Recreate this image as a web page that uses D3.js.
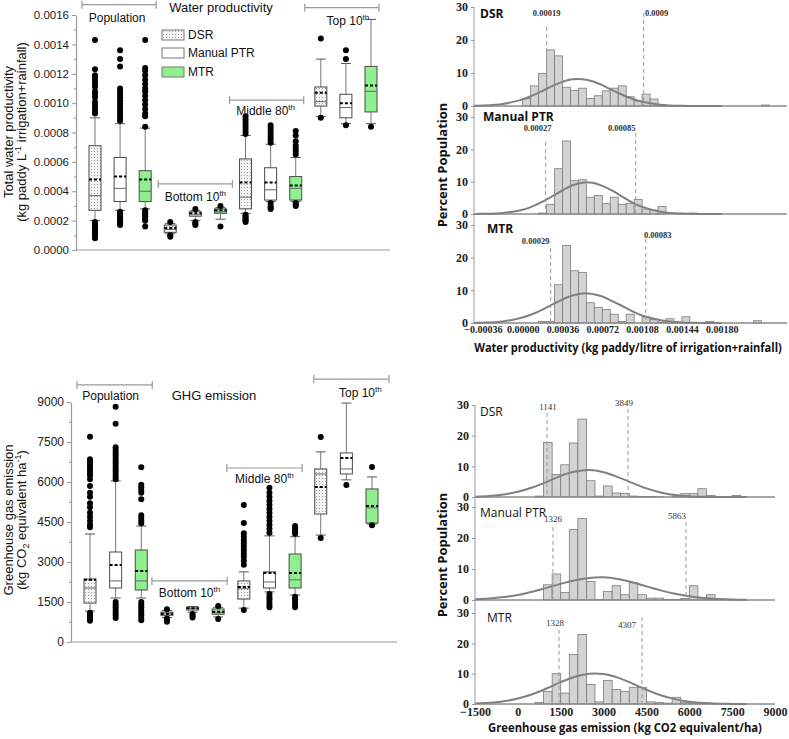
<!DOCTYPE html>
<html><head><meta charset="utf-8">
<script src="https://cdn.jsdelivr.net/npm/d3@7/dist/d3.min.js"></script>
<style>
body{margin:0;background:#fff;}
svg{display:block;font-family:"Liberation Sans",Arial,sans-serif;}
</style></head><body>
<svg id="chart" width="789" height="739"></svg>
<script>
// ---------------- DATA ----------------
const treatments = ["DSR", "Manual PTR", "MTR"];
const groupNames = ["Population", "Bottom 10", "Middle 80", "Top 10"];
const groupSup = ["", "th", "th", "th"];

// Water productivity boxes (order: group x treatment)
const wpWhiskerLow  = [0.00020,0.00027,0.00028, 0.00011,0.00020,0.00021, 0.00025,0.00033,0.00033, 0.00091,0.00086,0.00086];
const wpQ1          = [0.00027,0.00033,0.00033, 0.00012,0.00023,0.00025, 0.00028,0.00034,0.00034, 0.00098,0.00090,0.00094];
const wpMedian      = [0.00037,0.00042,0.00040, 0.00014,0.00024,0.00026, 0.00036,0.00041,0.00042, 0.00101,0.00097,0.00108];
const wpMean        = [0.00048,0.00050,0.00048, 0.00015,0.00025,0.00027, 0.00046,0.00046,0.00044, 0.00107,0.00100,0.00112];
const wpQ3          = [0.00071,0.00063,0.00054, 0.00017,0.00026,0.00028, 0.00062,0.00056,0.00050, 0.00111,0.00106,0.00125];
const wpWhiskerHigh = [0.00090,0.00086,0.00083, 0.00018,0.00027,0.00029, 0.00078,0.00072,0.00063, 0.00130,0.00127,0.00157];
const wpOutliers = [
 [0.00143,0.00123,0.00119,0.00117,0.00115,0.00113,0.00111,0.00108,0.00106,0.00104,0.00101,0.00099,0.00097,0.00095,0.00093,0.00019,0.00018,0.00017,0.00016,0.00015,0.00014,0.00013,0.00012,0.00011,0.00010,0.00009,0.00008],
 [0.00136,0.00130,0.00125,0.00110,0.00108,0.00106,0.00104,0.00102,0.00100,0.00098,0.00096,0.00094,0.00092,0.00090,0.00088,0.00026,0.00025,0.00024,0.00023,0.00022,0.00021,0.00020,0.00019,0.00018,0.00017],
 [0.00143,0.00124,0.00122,0.00119,0.00116,0.00113,0.00110,0.00108,0.00105,0.00102,0.00099,0.00096,0.00093,0.00091,0.00084,0.00027,0.00026,0.00025,0.00024,0.00023,0.00022,0.00021,0.00020,0.00016],
 [0.00019,0.00010,0.00009],
 [0.00028,0.00019,0.00018,0.00017],
 [0.00030,0.00016],
 [0.00091,0.00089,0.00087,0.00085,0.00083,0.00081,0.00079,0.00024,0.00023,0.00022,0.00021,0.00020,0.00019],
 [0.00085,0.00083,0.00081,0.00079,0.00077,0.00075,0.00073,0.00032,0.00030,0.00029,0.00028],
 [0.00081,0.00078,0.00074,0.00071,0.00069,0.00067,0.00065,0.00032,0.00031,0.00030],
 [0.00144,0.00090],
 [0.00136,0.00130,0.00085],
 [0.00084]
];
const wpTicks = [0,0.0002,0.0004,0.0006,0.0008,0.0010,0.0012,0.0014,0.0016];
const wpMinorTicks = [0.0001,0.0003,0.0005,0.0007,0.0009,0.0011,0.0013,0.0015];
const wpBracketY = [0.00167,0.00045,0.00102,0.00165];

// GHG emission boxes
const ghgWhiskerLow  = [1160,1650,1650, 920,1120,940, 1270,1880,1760, 4010,6080,4420];
const ghgQ1          = [1460,2025,1950, 1000,1200,1040, 1610,2025,2025, 4800,6300,4460];
const ghgMedian      = [2025,2290,2290, 1050,1250,1100, 2000,2250,2330, 6300,6490,5030];
const ghgMean        = [2330,2890,2660, 1060,1270,1130, 2060,2590,2590, 5810,6900,5100];
const ghgQ3          = [2360,3375,3450, 1120,1310,1240, 2290,2630,3300, 6490,7090,5740];
const ghgWhiskerHigh = [4050,6040,4350, 1180,1330,1300, 2630,3980,3950, 7130,8960,6190];
const ghgOutliers = [
 [7700,6850,6750,6650,6550,6450,6350,6250,6100,5850,5600,5450,5200,5050,4850,4700,4550,4400,4300,1100,1050,1000,950,900,850,800],
 [8820,8180,7300,7200,7100,7000,6900,6800,6700,6600,6500,6400,6300,6200,6100,1500,1400,1300,1200,1100,1000,900],
 [6550,5900,5800,5700,5600,5350,4750,4650,4550,4450,1500,1400,1300,1200,1100,1000,900,820],
 [1230,880,820,760],
 [1050,980,920],
 [1350,860],
 [5140,4460,4080,3950,3820,3700,3580,3450,3320,3200,3050,2900,1200],
 [5780,5600,5450,5300,5150,5000,4850,4700,4550,4400,4250,4100,1800,1700,1600,1500,1400,1300],
 [4350,4280,4200,4130,4060,1700,1600,1500,1400,1300],
 [7690,3900],
 [5890],
 [6560,4380]
];
const ghgTicks = [0,1500,3000,4500,6000,7500,9000];
const ghgMinorTicks = [750,2250,3750,5250,6750,8250];
const ghgBracketY = [9640,2290,6525,9860];

// Histograms: water productivity (% of population per bin)
const wpBinStart = 0, wpBinWidth = 0.000072;
const wpHistDSR    = [2.3,6.1,9.9,17.0,15.2,5.7,4.7,5.4,2.3,3.1,4.6,5.4,6.1,2.8,1.5,3.6,2.1,0.5,0.2,0.2,0.1,0.1,0,0,0,0,0,0,0,0,0.3];
const wpHistManual = [0,0,0.3,3.0,14.0,22.6,10.3,10.6,5.2,5.7,3.2,5.2,3.0,3.3,4.5,1.5,1.2,2.3,0,0,0,0.3];
const wpHistMTR    = [0,0,0.5,0.5,11.7,23.7,16.0,15.5,6.2,4.8,4.1,2.7,0.5,2.7,0,1.8,1.0,0.3,1.3,0.3,1.9,0,0,0.5,0,0,0,0,0,0.7];
const wpCurveX      = [-0.00044,-0.00036,-0.00018,0,0.00009,0.00018,0.00027,0.00036,0.00045,0.00054,0.00063,0.00072,0.00081,0.00090,0.00099,0.00108,0.00126,0.00144,0.00162,0.00180];
const wpCurveDSR    = [0.06,0.14,0.63,2.0,3.2,4.6,6.1,7.3,8.1,8.1,7.5,6.3,4.8,3.4,2.2,1.3,0.33,0.06,0.01,0];
const wpCurveManual = [0.02,0.05,0.32,1.3,2.35,3.8,5.5,7.3,8.9,9.7,9.65,8.7,7.2,5.4,3.6,2.2,0.64,0.12,0.02,0];
const wpCurveMTR    = [0.05,0.1,0.48,1.7,2.75,4.1,5.7,7.2,8.4,9.05,8.9,8.1,6.7,5.2,3.6,2.3,0.75,0.17,0.03,0];
const wpCutLabels   = [["0.00019","0.0009"],["0.00027","0.00085"],["0.00029","0.00083"]];
const wpCutPos      = [[0.000217,0.001094],[0.000208,0.001022],[0.000253,0.001113]];
const wpXTicks = [-0.00036,0,0.00036,0.00072,0.00108,0.00144,0.00180];

// Histograms: GHG emission
const ghgBinStart = 600, ghgBinWidth = 300;
const ghgHistDSR    = [0.3,17.8,7.3,10.5,17.6,25.4,5.3,0.3,3.6,1.3,1.2,0.3,0.2,0.2,0.1,0,0.3,1.1,1.1,2.7,0.5,0,0,0.5];
const ghgHistManual = [0,4.9,8.4,2.4,22.7,26.3,6.0,0.2,2.8,4.6,1.7,5.6,1.7,0.6,0.6,0.2,0.2,0.5,4.6,0.7,1.7,0.3];
const ghgHistMTR    = [0.5,4.1,10.0,3.6,16.3,22.9,6.4,0.7,7.8,4.8,4.1,5.5,5.5,0.7,0.5,0.3,2.2,0.6,0.1,0.5];
const ghgCurveX      = [-1500,-1000,-500,0,500,1000,1500,2000,2500,3000,3500,4000,4500,5000,5500,6000,6500,7000,7500,8000];
const ghgCurveDSR    = [0.12,0.34,0.81,1.7,3.1,4.9,6.9,8.3,8.8,8.1,6.5,4.6,2.8,1.5,0.68,0.28,0.1,0.03,0.01,0];
const ghgCurveManual = [0.23,0.48,0.93,1.6,2.65,3.9,5.2,6.4,7.1,7.3,6.75,5.7,4.4,3.1,2.0,1.2,0.63,0.31,0.14,0.06];
const ghgCurveMTR    = [0.15,0.39,0.88,1.8,3.2,5.1,7.2,9.0,10.0,9.9,8.7,6.8,4.7,2.9,1.6,0.76,0.33,0.12,0.04,0.01];
const ghgCutLabels   = [["1141","3849"],["1326","5863"],["1328","4307"]];
const ghgCutPos      = [[1020,3855],[1230,5885],[1440,4345]];
const ghgXTicks = [-1500,0,1500,3000,4500,6000,7500,9000];

// ---------------- DRAW ----------------
const svg = d3.select("#chart");
const defs = svg.append("defs");
const pat = defs.append("pattern").attr("id","stip").attr("width",3).attr("height",3).attr("patternUnits","userSpaceOnUse");
pat.append("rect").attr("width",3).attr("height",3).attr("fill","#f3f3f3");
pat.append("rect").attr("x",1).attr("y",1).attr("width",1).attr("height",1).attr("fill","#a0a0a0");
const boxFills = ["url(#stip)","#ffffff","#90f090"];
const AX = "#9a9a9a";

// text squeezed horizontally to a target width (keeps glyph height)
function fitText(parent, str, cx, cy, width, rotate, attrs){
  const g = parent.append("g");
  const t = g.append("text").attr("text-anchor","middle").text(str);
  Object.entries(attrs).forEach(([k,v])=>t.attr(k,v));
  const natural = t.node().getComputedTextLength();
  const sx = Math.min(1, width/natural);
  g.attr("transform",`translate(${cx},${cy})${rotate?" rotate(-90)":""} scale(${sx},1)`);
  return g;
}

function drawBoxPanel(p){
  const g = svg.append("g");
  const x = d3.scalePoint().domain(d3.range(12)).range(p.xRange);
  const y = d3.scaleLinear().domain(p.yDomain).range(p.yRange);
  g.append("line").attr("x1",p.axisX).attr("x2",p.axisEnd).attr("y1",y(0)).attr("y2",y(0))
    .attr("stroke",AX).attr("stroke-width",1.2);
  const mg = g.append("g").attr("transform",`translate(${p.axisX},0)`)
    .call(d3.axisLeft(y).tickValues(p.minor).tickSize(2).tickFormat(""));
  mg.select(".domain").remove(); mg.selectAll("line").attr("stroke",AX);
  const ay = g.append("g").attr("transform",`translate(${p.axisX},0)`)
    .call(d3.axisLeft(y).tickValues(p.ticks).tickFormat(p.fmt).tickSize(4).tickSizeOuter(0).tickPadding(3));
  ay.select(".domain").attr("stroke",AX).attr("stroke-width",1.2);
  ay.selectAll(".tick line").attr("stroke",AX);
  ay.selectAll("text").attr("font-size",p.tickFont).attr("fill","#222")
    .attr("font-family","Liberation Sans, Arial, sans-serif");

  const bw = 12, cw = 5;
  d3.range(12).forEach(i=>{
    const cx = x(i), t = i%3;
    const b = g.append("g");
    const ln = (x1,y1,x2,y2,c,w)=>b.append("line").attr("x1",x1).attr("y1",y1).attr("x2",x2).attr("y2",y2).attr("stroke",c).attr("stroke-width",w);
    ln(cx,y(p.low[i]),cx,y(p.q1[i]),"#777",1);
    ln(cx,y(p.q3[i]),cx,y(p.high[i]),"#777",1);
    ln(cx-cw,y(p.low[i]),cx+cw,y(p.low[i]),"#555",1);
    ln(cx-cw,y(p.high[i]),cx+cw,y(p.high[i]),"#555",1);
    b.append("rect").attr("x",cx-bw/2).attr("width",bw).attr("y",y(p.q3[i])).attr("height",y(p.q1[i])-y(p.q3[i]))
      .attr("fill",boxFills[t]).attr("stroke","#4a4a4a").attr("stroke-width",1);
    ln(cx-bw/2,y(p.med[i]),cx+bw/2,y(p.med[i]),"#666",1);
    ln(cx-bw/2,y(p.mean[i]),cx+bw/2,y(p.mean[i]),"#000",2).attr("stroke-dasharray","3,2");
    b.selectAll("circle").data(p.out[i]).join("circle").attr("cx",cx).attr("cy",d=>y(d)).attr("r",3).attr("fill","#000");
  });

  groupNames.forEach((gn,j)=>{
    const x1 = x(j*3)-13+p.brShift[j], x2 = x(j*3+2)+11+p.brShift[j], yy = y(p.bracketY[j]);
    g.append("path").attr("d",`M${x1},${yy-4}V${yy+4}M${x1},${yy}H${x2}M${x2},${yy-4}V${yy+4}`)
      .attr("stroke","#999").attr("stroke-width",1.2).attr("fill","none");
    const t = g.append("text").attr("x",(x1+x2)/2+p.labelDx[j]).attr("y",yy+p.labelDy[j])
      .attr("text-anchor","middle").attr("font-size",12).attr("fill","#111");
    t.append("tspan").text(gn);
    if (groupSup[j]) t.append("tspan").attr("dy",-5).attr("font-size",8).text(groupSup[j]);
  });

  g.append("text").attr("x",p.titleX).attr("y",p.titleY).attr("text-anchor","middle")
    .attr("font-size",13).attr("fill","#111").text(p.title);

  const yl = g.append("g").attr("transform",`translate(0,${p.ylabelY}) rotate(-90)`);
  yl.append("text").attr("x",0).attr("y",13).attr("text-anchor","middle").attr("font-size",13).attr("fill","#111").text(p.ylabel1);
  const t2 = yl.append("text").attr("x",0).attr("y",26).attr("text-anchor","middle").attr("font-size",13).attr("fill","#111");
  p.ylabel2.forEach(s=>{
    const ts = t2.append("tspan").text(s.t);
    if (s.sup) ts.attr("dy",-5).attr("font-size",9);
    else if (s.sub) ts.attr("dy",3).attr("font-size",9);
    if (s.back) ts.attr("dy",s.back);
  });
  return g;
}

drawBoxPanel({
  xRange:[95,371], yDomain:[0,0.0016], yRange:[250,15], axisX:76, axisEnd:390,
  ticks:wpTicks, minor:wpMinorTicks, fmt:d3.format(".4f"), tickFont:11.5,
  low:wpWhiskerLow, q1:wpQ1, med:wpMedian, mean:wpMean, q3:wpQ3, high:wpWhiskerHigh, out:wpOutliers,
  bracketY:wpBracketY, brShift:[0,1,-3,-3], labelDx:[-2,0,-1,6], labelDy:[17,17,15,17],
  title:"Water productivity", titleX:221, titleY:12,
  ylabelY:132, ylabel1:"Total water productivity",
  ylabel2:[{t:"(kg paddy L"},{t:"-1",sup:true},{t:" irrigation+rainfall)",back:5}]
});
drawBoxPanel({
  xRange:[90,372], yDomain:[0,9000], yRange:[642,402], axisX:71, axisEnd:397,
  ticks:ghgTicks, minor:ghgMinorTicks, fmt:d3.format("d"), tickFont:12,
  low:ghgWhiskerLow, q1:ghgQ1, med:ghgMedian, mean:ghgMean, q3:ghgQ3, high:ghgWhiskerHigh, out:ghgOutliers,
  bracketY:ghgBracketY, brShift:[0,-2,-4,6], labelDx:[-4,0,0,9], labelDy:[15,16,15,18],
  title:"GHG emission", titleX:214, titleY:400,
  ylabelY:520, ylabel1:"Greenhouse gas emission",
  ylabel2:[{t:"(kg CO"},{t:"2",sub:true},{t:" equivalent ha",back:-3},{t:"-1",sup:true},{t:")",back:5}]
});

// legend
const lg = svg.append("g");
treatments.forEach((tr,i)=>{
  const yy = [30,48,67][i];
  lg.append("rect").attr("x",162).attr("y",yy).attr("width",22).attr("height",10)
    .attr("fill",boxFills[i]).attr("stroke","#777").attr("stroke-width",1);
  lg.append("text").attr("x",188).attr("y",yy+9).attr("font-size",12).attr("fill","#111").text(tr);
});

// ---------- histogram stacks ----------
function drawHistStack(p){
  const g = svg.append("g");
  const x = d3.scaleLinear().domain(p.xDomain).range(p.xRange);
  p.panels.forEach((pn,k)=>{
    const y = d3.scaleLinear().domain([0,30]).range([pn.base,pn.top]);
    const bins = pn.bins.map((v,i)=>({v, x0:p.binStart+i*p.binWidth, x1:p.binStart+(i+1)*p.binWidth})).filter(d=>d.v>0);
    g.append("g").selectAll("rect").data(bins).join("rect")
      .attr("x",d=>x(d.x0)).attr("width",d=>x(d.x1)-x(d.x0))
      .attr("y",d=>y(d.v)).attr("height",d=>y(0)-y(d.v))
      .attr("fill","#d3d3d3").attr("stroke","#7c7c7c").attr("stroke-width",0.8);
    g.append("line").attr("x1",p.xRange[0]).attr("x2",p.xRange[1]).attr("y1",y(0)).attr("y2",y(0))
      .attr("stroke","#8a8a8a").attr("stroke-width",1.5);
    const line = d3.line().x((d,i)=>x(p.curveX[i])).y(d=>y(d)).curve(d3.curveCatmullRom.alpha(0.5));
    g.append("path").attr("d",line(pn.curve)).attr("fill","none").attr("stroke","#808080").attr("stroke-width",2);
    const ay = g.append("g").attr("transform",`translate(${p.xRange[0]},0)`)
      .call(d3.axisLeft(y).tickValues([0,10,20,30]).tickSize(3).tickPadding(3));
    ay.select(".domain").remove();
    ay.selectAll(".tick line").attr("stroke","#999");
    ay.selectAll("text").attr("font-family","Liberation Serif, serif").attr("font-weight","bold")
      .attr("font-size",12).attr("fill","#222");
    pn.cuts.forEach((c,j)=>{
      const cx = x(c), L = pn.cutLayout[j];
      g.append("line").attr("x1",cx).attr("x2",cx).attr("y1",pn.top+L[2]).attr("y2",y(0))
        .attr("stroke","#999").attr("stroke-width",1).attr("stroke-dasharray","4,3");
      g.append("text").attr("x",cx+L[0]).attr("y",pn.top+L[1]).attr("text-anchor","middle")
        .attr("font-family","Liberation Serif, serif").attr("font-weight",p.cutWeight)
        .attr("font-size",p.cutFont).attr("fill","#333").text(pn.cutLabels[j]);
    });
    g.append("text").attr("x",pn.labelX).attr("y",pn.top+pn.labelDy)
      .attr("font-family","Open Sans, sans-serif").attr("font-weight",p.labelWeight)
      .attr("font-size",12).attr("fill","#111").text(treatments[k]);
  });
  const last = p.panels[p.panels.length-1];
  g.append("line").attr("x1",p.xRange[0]).attr("x2",p.xRange[0]).attr("y1",p.panels[0].top).attr("y2",last.base)
    .attr("stroke","#999").attr("stroke-width",1);
  const ax = g.append("g").attr("transform",`translate(0,${last.base})`)
    .call(d3.axisBottom(x).tickValues(p.xTicks).tickFormat(p.xFmt).tickSize(0).tickPadding(p.xPad));
  ax.select(".domain").remove();
  ax.selectAll("text").attr("font-family","Liberation Serif, serif").attr("font-weight","bold")
    .attr("font-size",p.xFont).attr("fill","#222");
  const tAttrs = {"font-family":"Open Sans, sans-serif","font-weight":"bold","font-size":12,"fill":"#111"};
  fitText(g, p.title, p.titleX, p.titleY, p.titleLen, false, tAttrs);
  fitText(g, "Percent Population", p.ylabX, p.ylabY, 132, true, Object.assign({}, tAttrs, {"font-size":13}));
}

drawHistStack({
  xDomain:[-0.00044,0.00239], xRange:[474,787], binStart:wpBinStart, binWidth:wpBinWidth, curveX:wpCurveX,
  xTicks:wpXTicks, xFmt:d3.format(".5f"), xFont:10, xPad:3, cutFont:8.5, cutWeight:"bold", labelWeight:"bold",
  title:"Water productivity (kg paddy/litre of irrigation+rainfall)", titleX:628, titleY:352, titleLen:308,
  ylabX:447, ylabY:165,
  panels:[
    {bins:wpHistDSR, curve:wpCurveDSR, base:106, top:7, cuts:wpCutPos[0], cutLabels:wpCutLabels[0],
     cutLayout:[[0,9,20],[13,9,6]], labelX:480, labelDy:11},
    {bins:wpHistManual, curve:wpCurveManual, base:214, top:117, cuts:wpCutPos[1], cutLabels:wpCutLabels[1],
     cutLayout:[[-8,14,25],[-14,14,16]], labelX:483, labelDy:4},
    {bins:wpHistMTR, curve:wpCurveMTR, base:323, top:225, cuts:wpCutPos[2], cutLabels:wpCutLabels[2],
     cutLayout:[[-15,19,23],[12,13,14]], labelX:487, labelDy:8}
  ]
});
drawHistStack({
  xDomain:[-1500,9000], xRange:[475,775], binStart:ghgBinStart, binWidth:ghgBinWidth, curveX:ghgCurveX,
  xTicks:ghgXTicks, xFmt:d3.format("d"), xFont:12, xPad:3, cutFont:9, cutWeight:"normal", labelWeight:"normal",
  title:"Greenhouse gas emission (kg CO2 equivalent/ha)", titleX:625, titleY:732, titleLen:274,
  ylabX:447, ylabY:555,
  panels:[
    {bins:ghgHistDSR, curve:ghgCurveDSR, base:497, top:405, cuts:ghgCutPos[0], cutLabels:ghgCutLabels[0],
     cutLayout:[[1,5,8],[-4,1,4]], labelX:480, labelDy:11},
    {bins:ghgHistManual, curve:ghgCurveManual, base:600, top:507, cuts:ghgCutPos[1], cutLabels:ghgCutLabels[1],
     cutLayout:[[0,15,20],[-9,12,15]], labelX:480, labelDy:10},
    {bins:ghgHistMTR, curve:ghgCurveMTR, base:704, top:613, cuts:ghgCutPos[2], cutLabels:ghgCutLabels[2],
     cutLayout:[[-4,13,17],[-15,15,4]], labelX:487, labelDy:9}
  ]
});
</script>
</body></html>
